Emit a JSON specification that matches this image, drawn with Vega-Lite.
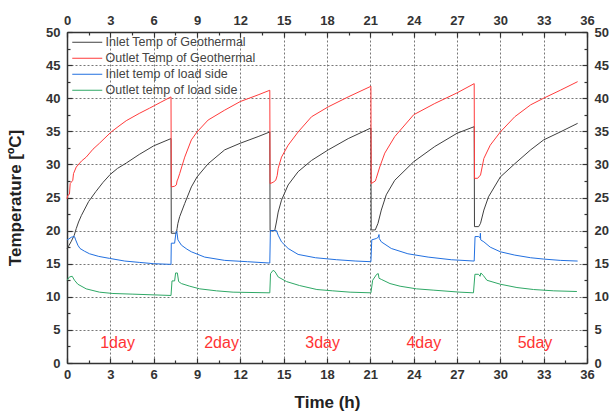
{
"$schema":"https://vega.github.io/schema/vega-lite/v6.json",
"width":520,"height":331,
"autosize":{"type":"none"},
"padding":{"left":67,"top":32,"right":23,"bottom":54},
"background":"white",
"config":{"view":{"stroke":null},"font":"Liberation Sans"},
"datasets":{
"curves":[
{"s":"gi","t":0,"v":17.3},{"s":"gi","t":0.15,"v":17.8},{"s":"gi","t":0.3,"v":18.4},{"s":"gi","t":0.5,"v":19.3},{"s":"gi","t":0.64,"v":20.3},{"s":"gi","t":0.8,"v":21.3},{"s":"gi","t":1.0,"v":22.3},{"s":"gi","t":1.5,"v":24.4},{"s":"gi","t":2.0,"v":25.9},{"s":"gi","t":2.5,"v":27.3},{"s":"gi","t":3.0,"v":28.5},{"s":"gi","t":3.5,"v":29.4},{"s":"gi","t":4.1,"v":30.2},{"s":"gi","t":5.0,"v":31.5},{"s":"gi","t":6.0,"v":32.8},{"s":"gi","t":7.2,"v":33.9},
{"s":"gi","t":7.22,"v":19.6},{"s":"gi","t":7.57,"v":19.6},{"s":"gi","t":7.62,"v":20.3},{"s":"gi","t":7.68,"v":21.1},{"s":"gi","t":7.8,"v":22.1},{"s":"gi","t":8.15,"v":24.1},{"s":"gi","t":8.61,"v":26.6},{"s":"gi","t":9.0,"v":28.1},{"s":"gi","t":9.77,"v":30.1},{"s":"gi","t":10.92,"v":32.2},{"s":"gi","t":12.0,"v":33.2},{"s":"gi","t":13.23,"v":34.2},{"s":"gi","t":14.04,"v":34.9},
{"s":"gi","t":14.06,"v":20.0},{"s":"gi","t":14.38,"v":20.0},{"s":"gi","t":14.5,"v":21.3},{"s":"gi","t":14.62,"v":22.8},{"s":"gi","t":14.85,"v":24.6},{"s":"gi","t":15.31,"v":26.9},{"s":"gi","t":16.0,"v":28.9},{"s":"gi","t":16.93,"v":30.6},{"s":"gi","t":18.09,"v":32.2},{"s":"gi","t":19.47,"v":33.9},{"s":"gi","t":21.04,"v":35.5},
{"s":"gi","t":21.06,"v":20.1},{"s":"gi","t":21.34,"v":20.1},{"s":"gi","t":21.53,"v":21.1},{"s":"gi","t":21.76,"v":23.1},{"s":"gi","t":22.1,"v":25.4},{"s":"gi","t":22.69,"v":27.6},{"s":"gi","t":24.0,"v":30.4},{"s":"gi","t":25.46,"v":32.7},{"s":"gi","t":27.0,"v":34.7},{"s":"gi","t":28.19,"v":35.7},
{"s":"gi","t":28.21,"v":20.6},{"s":"gi","t":28.5,"v":20.6},{"s":"gi","t":28.63,"v":21.1},{"s":"gi","t":28.86,"v":23.1},{"s":"gi","t":29.18,"v":25.1},{"s":"gi","t":30.0,"v":28.1},{"s":"gi","t":31.0,"v":30.1},{"s":"gi","t":32.1,"v":32.2},{"s":"gi","t":33.0,"v":33.7},{"s":"gi","t":34.15,"v":34.9},{"s":"gi","t":35.35,"v":36.2},
{"s":"go","t":0,"v":24.8},{"s":"go","t":0.05,"v":25.3},{"s":"go","t":0.17,"v":25.5},{"s":"go","t":0.22,"v":27.1},{"s":"go","t":0.4,"v":27.6},{"s":"go","t":0.45,"v":28.6},{"s":"go","t":0.64,"v":29.6},{"s":"go","t":1.0,"v":30.5},{"s":"go","t":1.33,"v":31.1},{"s":"go","t":1.8,"v":32.3},{"s":"go","t":2.25,"v":33.2},{"s":"go","t":3.06,"v":34.9},{"s":"go","t":3.6,"v":35.8},{"s":"go","t":4.1,"v":36.6},{"s":"go","t":5.0,"v":37.7},{"s":"go","t":5.72,"v":38.5},{"s":"go","t":6.5,"v":39.4},{"s":"go","t":7.2,"v":40.2},
{"s":"go","t":7.22,"v":26.6},{"s":"go","t":7.45,"v":26.7},{"s":"go","t":7.57,"v":26.9},{"s":"go","t":7.62,"v":27.5},{"s":"go","t":7.68,"v":27.8},{"s":"go","t":7.8,"v":28.6},{"s":"go","t":8.15,"v":31.1},{"s":"go","t":8.61,"v":33.7},{"s":"go","t":9.0,"v":34.9},{"s":"go","t":9.77,"v":36.7},{"s":"go","t":10.92,"v":38.2},{"s":"go","t":12.0,"v":39.5},{"s":"go","t":13.23,"v":40.5},{"s":"go","t":14.04,"v":41.2},
{"s":"go","t":14.06,"v":27.1},{"s":"go","t":14.27,"v":27.3},{"s":"go","t":14.45,"v":27.6},{"s":"go","t":14.55,"v":28.3},{"s":"go","t":14.62,"v":29.4},{"s":"go","t":14.85,"v":31.1},{"s":"go","t":15.31,"v":32.9},{"s":"go","t":16.0,"v":34.9},{"s":"go","t":16.93,"v":37.2},{"s":"go","t":18.09,"v":38.7},{"s":"go","t":19.47,"v":40.2},{"s":"go","t":21.04,"v":41.8},
{"s":"go","t":21.06,"v":27.1},{"s":"go","t":21.35,"v":27.5},{"s":"go","t":21.41,"v":27.9},{"s":"go","t":21.65,"v":29.6},{"s":"go","t":22.0,"v":31.7},{"s":"go","t":22.69,"v":34.2},{"s":"go","t":24.0,"v":37.5},{"s":"go","t":25.46,"v":39.2},{"s":"go","t":27.0,"v":40.8},{"s":"go","t":28.19,"v":42.2},
{"s":"go","t":28.21,"v":27.9},{"s":"go","t":28.43,"v":27.9},{"s":"go","t":28.63,"v":28.4},{"s":"go","t":28.74,"v":29.6},{"s":"go","t":28.86,"v":30.9},{"s":"go","t":29.3,"v":32.9},{"s":"go","t":30.0,"v":34.9},{"s":"go","t":31.0,"v":37.2},{"s":"go","t":32.1,"v":39.0},{"s":"go","t":33.0,"v":40.0},{"s":"go","t":34.15,"v":41.2},{"s":"go","t":35.35,"v":42.5},
{"s":"li","t":0,"v":18.6},{"s":"li","t":0.1,"v":18.7},{"s":"li","t":0.3,"v":19.0},{"s":"li","t":0.52,"v":19.1},{"s":"li","t":0.6,"v":18.6},{"s":"li","t":0.75,"v":17.8},{"s":"li","t":0.9,"v":17.3},{"s":"li","t":1.2,"v":16.9},{"s":"li","t":1.56,"v":16.5},{"s":"li","t":2.2,"v":16.1},{"s":"li","t":2.95,"v":15.8},{"s":"li","t":4.0,"v":15.4},{"s":"li","t":5.0,"v":15.2},{"s":"li","t":6.0,"v":15.0},{"s":"li","t":7.2,"v":14.9},
{"s":"li","t":7.22,"v":18.1},{"s":"li","t":7.45,"v":18.1},{"s":"li","t":7.55,"v":19.8},{"s":"li","t":7.6,"v":19.9},{"s":"li","t":7.68,"v":18.6},{"s":"li","t":7.92,"v":17.8},{"s":"li","t":8.3,"v":17.2},{"s":"li","t":8.61,"v":16.8},{"s":"li","t":9.53,"v":16.0},{"s":"li","t":10.92,"v":15.5},{"s":"li","t":12.5,"v":15.3},{"s":"li","t":14.04,"v":15.1},
{"s":"li","t":14.08,"v":20.0},{"s":"li","t":14.5,"v":20.0},{"s":"li","t":14.62,"v":19.3},{"s":"li","t":14.85,"v":18.3},{"s":"li","t":15.31,"v":17.3},{"s":"li","t":16.0,"v":16.4},{"s":"li","t":17.2,"v":15.9},{"s":"li","t":18.67,"v":15.6},{"s":"li","t":20.0,"v":15.4},{"s":"li","t":21.04,"v":15.3},
{"s":"li","t":21.1,"v":18.6},{"s":"li","t":21.41,"v":18.8},{"s":"li","t":21.55,"v":19.0},{"s":"li","t":21.6,"v":19.4},{"s":"li","t":21.62,"v":18.8},{"s":"li","t":21.76,"v":18.3},{"s":"li","t":22.45,"v":17.3},{"s":"li","t":23.6,"v":16.5},{"s":"li","t":25.0,"v":16.0},{"s":"li","t":26.6,"v":15.6},{"s":"li","t":28.19,"v":15.4},
{"s":"li","t":28.25,"v":19.1},{"s":"li","t":28.5,"v":19.1},{"s":"li","t":28.6,"v":18.9},{"s":"li","t":28.62,"v":19.6},{"s":"li","t":28.64,"v":18.6},{"s":"li","t":28.86,"v":18.3},{"s":"li","t":29.3,"v":17.5},{"s":"li","t":30.0,"v":16.8},{"s":"li","t":31.0,"v":16.3},{"s":"li","t":32.1,"v":15.9},{"s":"li","t":33.0,"v":15.7},{"s":"li","t":34.15,"v":15.5},{"s":"li","t":35.35,"v":15.4},
{"s":"lo","t":0,"v":12.5},{"s":"lo","t":0.17,"v":13.0},{"s":"lo","t":0.36,"v":13.1},{"s":"lo","t":0.52,"v":12.5},{"s":"lo","t":0.75,"v":11.9},{"s":"lo","t":1.33,"v":11.2},{"s":"lo","t":2.25,"v":10.7},{"s":"lo","t":3.18,"v":10.5},{"s":"lo","t":4.56,"v":10.4},{"s":"lo","t":7.2,"v":10.2},
{"s":"lo","t":7.27,"v":12.4},{"s":"lo","t":7.45,"v":12.4},{"s":"lo","t":7.52,"v":13.6},{"s":"lo","t":7.64,"v":13.6},{"s":"lo","t":7.73,"v":12.3},{"s":"lo","t":7.92,"v":12.0},{"s":"lo","t":8.5,"v":11.6},{"s":"lo","t":9.19,"v":11.2},{"s":"lo","t":10.35,"v":10.9},{"s":"lo","t":11.5,"v":10.7},{"s":"lo","t":14.04,"v":10.6},
{"s":"lo","t":14.09,"v":13.5},{"s":"lo","t":14.27,"v":14.0},{"s":"lo","t":14.4,"v":13.8},{"s":"lo","t":14.62,"v":13.0},{"s":"lo","t":15.2,"v":12.3},{"s":"lo","t":16.1,"v":11.7},{"s":"lo","t":17.3,"v":11.1},{"s":"lo","t":18.4,"v":10.9},{"s":"lo","t":19.6,"v":10.7},{"s":"lo","t":21.04,"v":10.6},
{"s":"lo","t":21.16,"v":12.5},{"s":"lo","t":21.44,"v":13.4},{"s":"lo","t":21.55,"v":13.5},{"s":"lo","t":21.6,"v":12.8},{"s":"lo","t":21.79,"v":12.6},{"s":"lo","t":22.36,"v":12.0},{"s":"lo","t":23.06,"v":11.6},{"s":"lo","t":24.2,"v":11.2},{"s":"lo","t":25.4,"v":11.0},{"s":"lo","t":27.2,"v":10.7},{"s":"lo","t":28.14,"v":10.6},
{"s":"lo","t":28.24,"v":13.4},{"s":"lo","t":28.49,"v":13.4},{"s":"lo","t":28.6,"v":13.1},{"s":"lo","t":28.65,"v":13.6},{"s":"lo","t":28.83,"v":13.2},{"s":"lo","t":29.07,"v":12.5},{"s":"lo","t":30.0,"v":11.9},{"s":"lo","t":31.15,"v":11.4},{"s":"lo","t":32.3,"v":11.1},{"s":"lo","t":33.7,"v":10.9},{"s":"lo","t":35.3,"v":10.8}
],
"labels":[
{"t":3.5,"v":3,"label":"1day"},{"t":10.7,"v":3,"label":"2day"},{"t":17.7,"v":3,"label":"3day"},{"t":24.7,"v":3,"label":"4day"},{"t":32.4,"v":3,"label":"5day"}
]
},
"layer":[
{
"data":{"name":"curves"},
"mark":{"type":"line","interpolate":"linear"},
"encoding":{
"x":{"field":"t","type":"quantitative","scale":{"domain":[0,36],"nice":false,"zero":false},
"axis":{"orient":"bottom","title":"Time (h)","values":[0,1.5,3,4.5,6,7.5,9,10.5,12,13.5,15,16.5,18,19.5,21,22.5,24,25.5,27,28.5,30,31.5,33,34.5,36],
"labelExpr":"datum.value % 3 === 0 ? '' + datum.value : ''",
"tickSize":{"condition":{"test":"datum.value % 3 === 0","value":-5},"value":-3},
"grid":true,"gridOpacity":{"condition":{"test":"datum.value % 3 === 0","value":1},"value":0},
"gridDash":[2,2],"gridColor":"#777","gridWidth":1,
"domainColor":"#333","domainWidth":1.5,"tickColor":"#333","tickWidth":1.2,
"labelFont":"Liberation Sans","labelFontWeight":"bold","labelFontSize":13,"labelColor":"#333","labelPadding":10,"labelFlush":false,"labelOverlap":false,
"titleFont":"Liberation Sans","titleFontSize":17,"titleFontWeight":"bold","titleColor":"#222","titlePadding":11}},
"y":{"field":"v","type":"quantitative","scale":{"domain":[0,50],"nice":false,"zero":false},
"axis":{"orient":"left","title":"Temperature [ºC]","values":[0,2.5,5,7.5,10,12.5,15,17.5,20,22.5,25,27.5,30,32.5,35,37.5,40,42.5,45,47.5,50],
"labelExpr":"datum.value % 5 === 0 ? '' + datum.value : ''",
"tickSize":{"condition":{"test":"datum.value % 5 === 0","value":-5},"value":-3},
"grid":true,"gridOpacity":{"condition":{"test":"datum.value % 5 === 0","value":1},"value":0},
"gridDash":[2,2],"gridColor":"#777","gridWidth":1,
"domainColor":"#333","domainWidth":1.5,"tickColor":"#333","tickWidth":1.2,
"labelFont":"Liberation Sans","labelFontWeight":"bold","labelFontSize":13,"labelColor":"#333","labelPadding":12,"labelFlush":false,"labelOverlap":false,
"titleFont":"Liberation Sans","titleFontSize":17,"titleFontWeight":"bold","titleColor":"#222","titlePadding":21}},
"color":{"field":"s","type":"nominal","scale":{"domain":["gi","go","li","lo"],"range":["#404040","#ff3b3b","#2270e0","#2fa866"]},
"legend":{"orient":"none","legendX":14,"legendY":4,"title":null,"symbolType":"M-3,0H3","symbolSize":100,"symbolStrokeWidth":1.5,"labelOffset":12,"labelFont":"Liberation Sans","labelFontSize":12.5,"labelColor":"#444","rowPadding":3,"padding":0,
"labelExpr":"({'gi':'Inlet Temp of Geothermal','go':'Outlet Temp of Geothermal','li':'Inlet temp of load side','lo':'Outlet temp of load side'})[datum.label]"}},
"strokeWidth":{"field":"s","type":"ordinal","scale":{"domain":["gi","go","li","lo"],"range":[1,1,1.7,1.5]},"legend":null}
}
},
{
"data":{"name":"labels"},
"mark":{"type":"text","color":"#ff3333","fontSize":16,"font":"Liberation Sans","baseline":"middle","align":"center"},
"encoding":{
"x":{"field":"t","type":"quantitative","scale":{"domain":[0,36],"nice":false,"zero":false},
"axis":{"orient":"top","title":null,"values":[0,1.5,3,4.5,6,7.5,9,10.5,12,13.5,15,16.5,18,19.5,21,22.5,24,25.5,27,28.5,30,31.5,33,34.5,36],
"labelExpr":"datum.value % 3 === 0 ? '' + datum.value : ''",
"tickSize":{"condition":{"test":"datum.value % 3 === 0","value":-5},"value":-3},
"grid":false,"domainColor":"#333","domainWidth":1.5,"tickColor":"#333","tickWidth":1.2,
"labelFont":"Liberation Sans","labelFontWeight":"bold","labelFontSize":13,"labelColor":"#333","labelPadding":10,"labelFlush":false,"labelOverlap":false}},
"y":{"field":"v","type":"quantitative","scale":{"domain":[0,50],"nice":false,"zero":false},
"axis":{"orient":"right","title":null,"values":[0,2.5,5,7.5,10,12.5,15,17.5,20,22.5,25,27.5,30,32.5,35,37.5,40,42.5,45,47.5,50],
"labelExpr":"datum.value % 5 === 0 ? '' + datum.value : ''",
"tickSize":{"condition":{"test":"datum.value % 5 === 0","value":-5},"value":-3},
"grid":false,"domainColor":"#333","domainWidth":1.5,"tickColor":"#333","tickWidth":1.2,
"labelFont":"Liberation Sans","labelFontWeight":"bold","labelFontSize":13,"labelColor":"#333","labelPadding":12,"labelFlush":false,"labelOverlap":false}},
"text":{"field":"label","type":"nominal"}
}
}
],
"resolve":{"axis":{"x":"independent","y":"independent"}}
}
